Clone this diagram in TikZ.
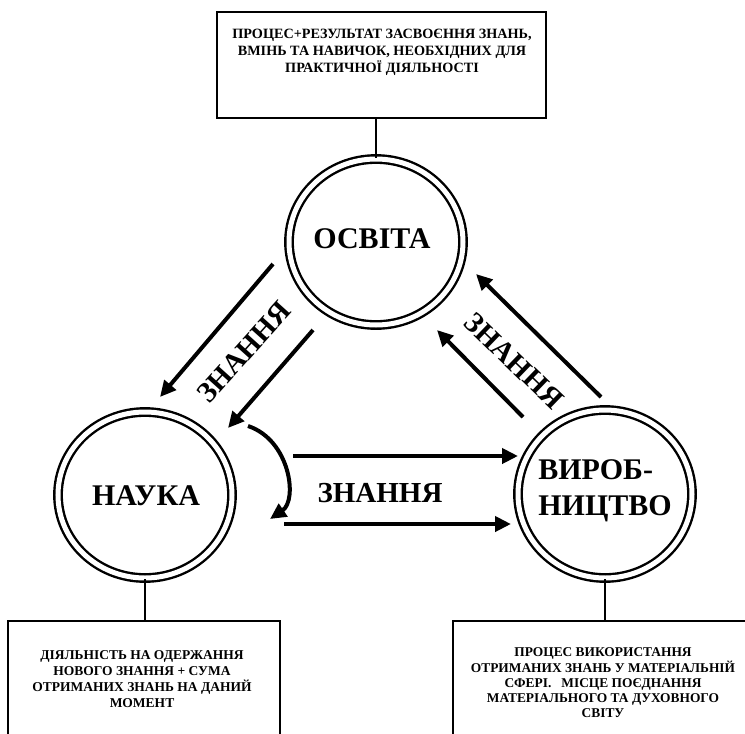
\documentclass[tikz,border=0pt]{standalone}
\usepackage{fontspec}
\setmainfont{Liberation Serif}[BoldFont={Liberation Serif Bold}]
\usetikzlibrary{shapes.geometric,arrows.meta}

\tikzset{
  ring/.style={draw, ellipse, double, double distance=5pt, line width=2.4pt, inner sep=0pt},
  infobox/.style={draw, rectangle, line width=2.4pt, inner sep=0pt},
  infotext/.style={align=center, font=\fontsize{14.2}{17}\selectfont\bfseries},
  bigword/.style={font=\fontsize{30}{36}\selectfont\bfseries},
  arr/.style={line width=4pt, -{Triangle[length=16pt,width=15pt]}},
  stem/.style={line width=2pt}
}

\begin{document}
\begin{tikzpicture}[x=1pt,y=-1pt]
  \useasboundingbox (0,0) rectangle (745,734);

  \node[infobox, minimum width=329pt, minimum height=106pt] (topbox) at (381.5,65) {};
  \node[infotext] (toptext) at (382,52) {ПРОЦЕС+РЕЗУЛЬТАТ ЗАСВОЄННЯ ЗНАНЬ,\\ ВМІНЬ ТА НАВИЧОК, НЕОБХІДНИХ ДЛЯ\\ ПРАКТИЧНОЇ ДІЯЛЬНОСТІ};

  \node[ring, minimum width=174pt, minimum height=166pt] (osvita) at (376,242) {};
  \node[bigword] (osvitatext) at (372,239) {ОСВІТА};
  \node[ring, minimum width=174pt, minimum height=166pt] (nauka) at (145,495) {};
  \node[bigword] (naukatext) at (146,496) {НАУКА};
  \node[ring, minimum width=174pt, minimum height=168pt] (vyrob) at (605,494) {};
  \node[bigword, align=left] (vyrobtext) at (605,491) {ВИРОБ-\\НИЦТВО};

  \node[infobox, minimum width=272pt, minimum height=150pt] (naukabox) at (144,696) {};
  \node[infotext, font=\fontsize{13.5}{16}\selectfont\bfseries] (naukanote) at (142,679) {ДІЯЛЬНІСТЬ НА ОДЕРЖАННЯ\\ НОВОГО ЗНАННЯ + СУМА\\ ОТРИМАНИХ ЗНАНЬ НА ДАНИЙ\\ МОМЕНТ};
  \node[infobox, minimum width=300pt, minimum height=150pt] (vyrobbox) at (603,696) {};
  \node[infotext, font=\fontsize{13.4}{15.3}\selectfont\bfseries] (vyrobnote) at (603,683) {ПРОЦЕС ВИКОРИСТАННЯ\\ ОТРИМАНИХ ЗНАНЬ У МАТЕРІАЛЬНІЙ\\ СФЕРІ.\ \ \ МІСЦЕ ПОЄДНАННЯ\\ МАТЕРІАЛЬНОГО ТА ДУХОВНОГО\\ СВІТУ};

  \draw[stem] (osvita.north) -- (osvita.north |- topbox.south);
  \draw[stem] (nauka.south) -- (nauka.south |- naukabox.north);
  \draw[stem] (vyrob.south) -- (vyrob.south |- vyrobbox.north);

  \coordinate (ln1s) at (273,264);  \coordinate (ln1e) at (160,397);
  \coordinate (ln2s) at (313,330);  \coordinate (ln2e) at (228,428);
  \coordinate (rn1s) at (601,397);  \coordinate (rn1e) at (476,274);
  \coordinate (rn2s) at (523,417);  \coordinate (rn2e) at (437,330);
  \coordinate (hz1s) at (293,456);  \coordinate (hz1e) at (518,456);
  \coordinate (hz2s) at (284,524);  \coordinate (hz2e) at (511,524);
  \coordinate (bends) at (248,426); \coordinate (bende) at (270,519);

  \draw[arr] (ln1s) -- (ln1e);
  \draw[arr] (ln2s) -- (ln2e);
  \draw[arr] (rn1s) -- (rn1e);
  \draw[arr] (rn2s) -- (rn2e);
  \draw[arr] (hz1s) -- (hz1e);
  \draw[arr] (hz2s) -- (hz2e);
  \draw[arr] (bends) .. controls (290,440) and (298,500) .. (bende);

  \node[bigword, font=\fontsize{29}{36}\selectfont\bfseries, rotate=48] (znleft) at (244,352) {ЗНАННЯ};
  \node[bigword, font=\fontsize{29}{36}\selectfont\bfseries, rotate=-44] (znright) at (514,361) {ЗНАННЯ};
  \node[bigword, font=\fontsize{29}{36}\selectfont\bfseries] (znmid) at (380,493) {ЗНАННЯ};
\end{tikzpicture}
\end{document}
